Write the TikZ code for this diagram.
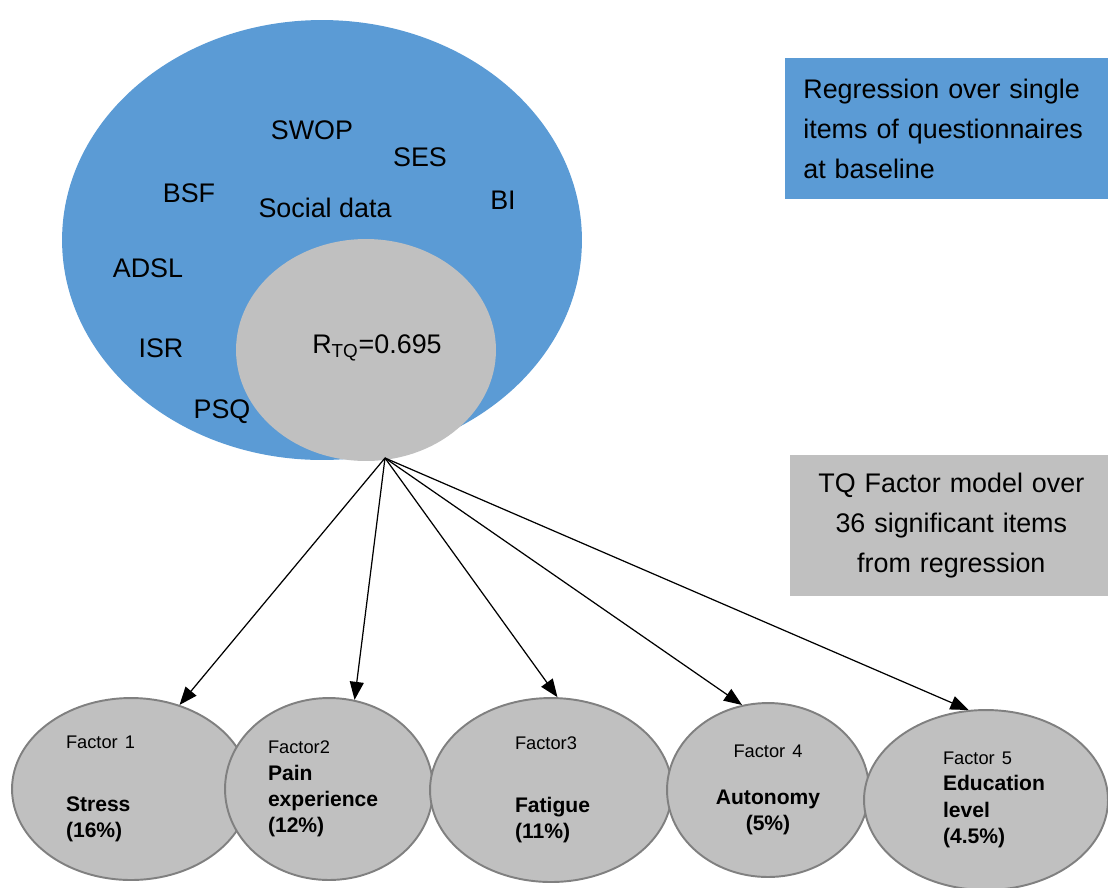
\documentclass[tikz,border=0pt]{standalone}
\usepackage{fontspec}
\setmainfont{Liberation Sans}
\usetikzlibrary{shapes.geometric,arrows.meta}
\definecolor{regblue}{RGB}{91,155,213}
\definecolor{tqgray}{RGB}{192,192,192}
\definecolor{rimgray}{RGB}{128,128,128}
\newcommand{\fcap}{\fontsize{10.4}{15}\selectfont\mdseries}
\tikzset{
  factor/.style={ellipse,draw=rimgray,line width=1.1pt,fill=tqgray,inner sep=0pt,align=left,font=\fontsize{12}{15}\selectfont\bfseries},
  item/.style={font=\fontsize{15.3}{22.7}\selectfont},
  infobox/.style={item,inner sep=0pt,minimum height=2.82cm},
  link/.style={line width=0.7pt,-{Triangle[length=0.36cm,width=0.28cm]}}
}
\begin{document}
\begin{tikzpicture}[x=0.02cm,y=-0.02cm]
        \useasboundingbox (0,0) rectangle (1108,887);
        \node[ellipse,fill=regblue,minimum width=10.4cm,minimum height=8.8cm] (pool) at (322,240) {};
        \node[ellipse,fill=tqgray,minimum width=5.2cm,minimum height=4.44cm] (core) at (366,350) {};
        \node[item] (swop) at (312,130) {SWOP};
        \node[item] (ses) at (420,157) {SES};
        \node[item] (bsf) at (189,193) {BSF};
        \node[item] (social) at (325,208) {Social data};
        \node[item] (bi) at (503,200) {BI};
        \node[item] (adsl) at (148,268) {ADSL};
        \node[item] (isr) at (161,348) {ISR};
        \node[item] (psq) at (222,412) {PSQ};
        \node[item] (rtq) at (377,348) {R\textsubscript{TQ}=0.695};
        \node[infobox,fill=regblue,anchor=north west,minimum width=6.54cm,text width=5.82cm,align=left] (regbox) at (785,58) {Regression over single\\ items of questionnaires\\ at baseline};
        \node[infobox,fill=tqgray,anchor=north west,minimum width=6.44cm,text width=5.9cm,align=center] (tqbox) at (790,455) {TQ Factor model over\\ 36 significant items\\ from regression};
        \node[factor,minimum width=4.76cm,minimum height=3.64cm,text width=2.6cm] (f1) at (131,789) {{\fcap Factor 1}\\[0.72cm] Stress\\ (16\%)};
        \node[factor,minimum width=4.16cm,minimum height=3.64cm,text width=2.44cm] (f2) at (329,789) {{\fcap Factor2}\\ Pain\\ experience\\ (12\%)};
        \node[factor,minimum width=4.84cm,minimum height=3.68cm,text width=1.44cm] (f3) at (551,790) {{\fcap Factor3}\\[0.72cm] Fatigue\\ (11\%)};
        \node[factor,minimum width=4.04cm,minimum height=3.48cm,text width=2.4cm,align=center] (f4) at (768,790) {{\fcap Factor 4}\\[0.4cm] Autonomy\\ (5\%)};
        \node[factor,minimum width=4.88cm,minimum height=3.6cm,text width=1.72cm] (f5) at (986,800) {{\fcap Factor 5}\\ Education\\ level\\ (4.5\%)};
        \coordinate (hub) at (385,458);
        \draw[link] (hub) -- (f1.60);
        \draw[link] (hub) -- (f2.74);
        \draw[link] (hub) -- (f3.86);
        \draw[link] (hub) -- (f4.107);
        \draw[link] (hub) -- (f5.101);
    \end{tikzpicture}
\end{document}
